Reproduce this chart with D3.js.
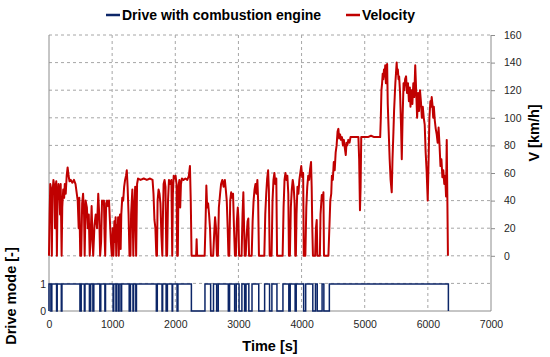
<!DOCTYPE html>
<html>
<head>
<meta charset="utf-8">
<script src="https://cdn.jsdelivr.net/npm/d3@7"></script>
<style>
  body { margin: 0; background: #fff; }
  text { font-family: "Liberation Sans", Arial, sans-serif; }
</style>
</head>
<body>
<svg id="chart" width="550" height="357"></svg>
<script>
// tick labels
var timeTicks = [0, 1000, 2000, 3000, 4000, 5000, 6000, 7000];
var velocityTicks = [0, 20, 40, 60, 80, 100, 120, 140, 160];
var modeTicks = [0, 1];

// velocity [s, km/h]
var velocity = [
  [0,0],[10,30],[20,52],[35,48],[45,0],[55,45],[70,55],[85,50],[95,20],[105,50],[115,54],[125,0],
  [135,40],[150,52],[165,45],[175,30],[185,52],[200,0],[210,35],[225,48],[240,42],[250,52],[265,45],
  [280,58],[295,64],[310,58],[325,54],[345,55],[370,53],[395,55],[420,52],[440,45],[455,40],[470,20],
  [480,42],[495,0],[510,0],[525,38],[540,45],[555,30],[565,0],[580,40],[600,35],[615,20],[630,30],
  [645,0],[660,15],[675,36],[690,10],[700,0],[720,22],[740,30],[760,20],[780,45],[795,30],[810,0],
  [825,10],[840,40],[855,38],[870,40],[880,15],[890,0],[905,38],[920,40],[935,36],[950,40],[965,25],
  [980,10],[995,0],[1010,20],[1020,0],[1035,25],[1045,10],[1055,28],[1065,0],[1075,22],[1085,15],
  [1095,28],[1105,0],[1115,25],[1125,30],[1135,5],[1145,30],[1160,42],[1175,40],[1190,50],[1205,55],
  [1220,58],[1232,62],[1245,50],[1260,30],[1275,0],[1290,0],[1300,30],[1320,48],[1335,0],[1350,35],
  [1365,50],[1380,0],[1395,52],[1410,56],[1450,55],[1500,56],[1550,55],[1600,56],[1640,55],[1655,45],
  [1670,26],[1685,20],[1700,0],[1710,0],[1720,40],[1735,48],[1750,45],[1765,38],[1780,15],[1795,0],
  [1805,30],[1815,52],[1830,55],[1845,50],[1858,0],[1870,0],[1885,40],[1900,55],[1920,52],[1938,55],
  [1952,0],[1962,45],[1975,58],[1990,56],[2005,58],[2020,52],[2030,0],[2040,0],[2050,50],[2065,55],
  [2078,35],[2090,52],[2105,56],[2130,55],[2160,56],[2190,55],[2215,58],[2232,65],[2245,40],[2258,0],
  [2330,0],[2338,12],[2346,0],[2465,0],[2480,25],[2492,51],[2505,35],[2520,38],[2535,30],[2550,20],
  [2565,0],[2600,0],[2615,15],[2630,28],[2645,20],[2660,0],[2675,0],[2690,35],[2710,45],[2725,52],
  [2745,55],[2765,50],[2785,55],[2800,48],[2815,40],[2830,20],[2842,0],[2855,0],[2870,40],[2885,46],
  [2900,42],[2915,45],[2930,20],[2945,0],[2960,0],[2975,25],[2990,35],[3000,27],[3010,0],[3050,0],
  [3065,30],[3078,46],[3090,20],[3100,0],[3115,0],[3130,15],[3145,25],[3157,27],[3168,0],[3210,0],
  [3225,25],[3240,40],[3255,48],[3270,52],[3285,45],[3300,55],[3312,40],[3325,0],[3410,0],[3425,30],
  [3440,45],[3455,56],[3470,62],[3482,48],[3495,0],[3525,0],[3540,40],[3555,55],[3570,60],[3585,52],
  [3600,56],[3612,0],[3700,0],[3715,35],[3730,55],[3745,60],[3760,55],[3775,58],[3790,45],[3800,0],
  [3815,0],[3830,35],[3845,48],[3860,55],[3875,50],[3890,38],[3900,0],[3910,0],[3920,30],[3935,50],
  [3950,45],[3965,55],[3980,60],[3995,65],[4010,57],[4025,60],[4035,0],[4060,0],[4075,35],[4090,50],
  [4105,58],[4120,55],[4135,63],[4150,68],[4160,50],[4170,20],[4180,0],[4215,0],[4228,20],[4240,26],
  [4250,0],[4290,0],[4300,30],[4320,44],[4335,40],[4346,46],[4355,0],[4425,0],[4440,20],[4455,40],
  [4470,45],[4480,58],[4495,55],[4510,68],[4525,62],[4540,75],[4555,80],[4570,90],[4583,92],[4595,85],
  [4610,88],[4625,84],[4640,86],[4655,80],[4670,84],[4685,78],[4700,73],[4712,82],[4725,80],[4740,84],
  [4760,82],[4775,86],[4800,86],[4850,86],[4900,86],[4912,70],[4925,33],[4935,50],[4945,86],[5000,86],
  [5050,86],[5100,87],[5150,86],[5200,86],[5245,86],[5255,100],[5265,120],[5275,125],[5285,132],
  [5295,128],[5305,135],[5315,130],[5325,138],[5335,125],[5345,136],[5355,139],[5365,110],[5380,90],
  [5395,70],[5410,55],[5428,46],[5440,70],[5455,90],[5465,105],[5475,115],[5485,125],[5495,132],
  [5506,140],[5515,132],[5525,135],[5535,128],[5545,130],[5560,118],[5575,95],[5587,70],[5600,100],
  [5615,125],[5625,120],[5640,128],[5655,130],[5670,118],[5685,125],[5700,112],[5715,122],[5725,108],
  [5740,120],[5755,110],[5770,125],[5785,115],[5800,138],[5815,120],[5830,100],[5845,118],[5860,105],
  [5875,120],[5890,112],[5905,100],[5920,108],[5935,100],[5950,95],[5965,75],[5980,62],[5998,40],
  [6012,70],[6025,100],[6040,112],[6050,108],[6061,115],[6072,110],[6085,100],[6095,108],[6110,98],
  [6125,92],[6140,88],[6155,82],[6170,93],[6185,80],[6200,65],[6215,70],[6230,57],[6245,62],[6260,52],
  [6275,58],[6288,43],[6299,84],[6308,45],[6318,0]
];

// periods with the combustion engine off (drive mode 0), [from s, to s]
var engineOff = [
  [30,45],[120,130],[195,205],[490,510],[560,570],[640,660],[695,710],[805,820],[885,895],
  [1015,1025],[1060,1070],[1100,1110],[1140,1150],[1270,1290],[1330,1340],[1375,1385],[1700,1715],
  [1790,1800],[1855,1875],[1950,1958],[2028,2042],[2255,2470],[2560,2605],[2655,2680],[2840,2860],
  [2940,2965],[3010,3055],[3098,3120],[3165,3215],[3322,3415],[3493,3530],[3610,3705],[3798,3820],
  [3898,3915],[4033,4065],[4178,4220],[4248,4325],[4353,4440]
];
var driveEnd = 6325;

var svg = d3.select("#chart");
var plotLeft = 49, plotRight = 491, plotTop = 35, plotBottom = 311;
var gridColor = "#a6a6a6", axisColor = "#8c8c8c";
var redColor = "#c00000", blueColor = "#0c2668";

var x = d3.scaleLinear().domain([0, 7000]).range([plotLeft, plotRight]);
var yV = d3.scaleLinear().domain([-40, 160]).range([plotBottom, plotTop]);
var yM = d3.scaleLinear().domain([0, 1]).range([plotBottom, 284]);

// grid
var grid = svg.append("g");
grid.selectAll(".hgrid")
    .data(d3.range(-20, 161, 20))
  .enter().append("line")
    .attr("x1", plotLeft).attr("x2", plotRight)
    .attr("y1", function(d) { return yV(d); })
    .attr("y2", function(d) { return yV(d); })
    .attr("stroke", gridColor).attr("stroke-dasharray", "3,3");
grid.selectAll(".vgrid")
    .data(timeTicks.slice(1, -1))
  .enter().append("line")
    .attr("x1", function(d) { return x(d); })
    .attr("x2", function(d) { return x(d); })
    .attr("y1", plotTop).attr("y2", plotBottom)
    .attr("stroke", gridColor).attr("stroke-dasharray", "3,3");

// frame axes
svg.append("line").attr("x1", plotLeft).attr("x2", plotLeft).attr("y1", plotTop).attr("y2", plotBottom).attr("stroke", axisColor);
svg.append("line").attr("x1", plotRight).attr("x2", plotRight).attr("y1", plotTop).attr("y2", plotBottom).attr("stroke", axisColor);
svg.append("line").attr("x1", plotLeft).attr("x2", plotRight).attr("y1", plotBottom).attr("y2", plotBottom).attr("stroke", axisColor);

// drive mode step line
var drivePts = [[0, 0], [0, 1]];
engineOff.forEach(function(p) {
  drivePts.push([p[0], 1], [p[0], 0], [p[1], 0], [p[1], 1]);
});
drivePts.push([driveEnd, 1], [driveEnd, 0]);

svg.append("path")
    .datum(drivePts)
    .attr("fill", "none")
    .attr("stroke", blueColor)
    .attr("stroke-width", 1.5)
    .attr("d", d3.line().x(function(d) { return x(d[0]); }).y(function(d) { return yM(d[1]); }));

svg.append("path")
    .datum(velocity)
    .attr("fill", "none")
    .attr("stroke", redColor)
    .attr("stroke-width", 2)
    .attr("stroke-linejoin", "round")
    .attr("d", d3.line().x(function(d) { return x(d[0]); }).y(function(d) { return yV(d[1]); }));

// axes
var ax = svg.append("g")
    .attr("transform", "translate(0," + plotBottom + ")")
    .call(d3.axisBottom(x).tickValues(timeTicks).tickFormat(d3.format("d")).tickSize(0).tickPadding(10));
var ay = svg.append("g")
    .attr("transform", "translate(" + plotRight + ",0)")
    .call(d3.axisRight(yV).tickValues(velocityTicks).tickFormat(d3.format("d")).tickSize(4).tickPadding(9));
var am = svg.append("g")
    .attr("transform", "translate(" + plotLeft + ",0)")
    .call(d3.axisLeft(yM).tickValues(modeTicks).tickFormat(d3.format("d")).tickSize(0).tickPadding(3));

[ax, ay, am].forEach(function(g) {
  g.select(".domain").remove();
  g.selectAll(".tick line").attr("stroke", axisColor);
  g.selectAll(".tick text")
    .attr("fill", "#262626")
    .style("font-size", "10.5px")
    .style("font-family", "'Liberation Sans', Arial, sans-serif");
});

// titles
svg.append("text")
    .attr("x", (plotLeft + plotRight) / 2).attr("y", 351)
    .attr("text-anchor", "middle")
    .style("font-size", "14.5px").style("font-weight", "bold")
    .text("Time [s]");
svg.append("text")
    .attr("transform", "translate(539,133) rotate(-90)")
    .attr("text-anchor", "middle")
    .style("font-size", "14.5px").style("font-weight", "bold")
    .text("V [km/h]");
svg.append("text")
    .attr("transform", "translate(16,296) rotate(-90)")
    .attr("text-anchor", "middle")
    .style("font-size", "14.5px").style("font-weight", "bold")
    .text("Drive mode [-]");

// legend
var legend = [
  {name: "Drive with combustion engine", color: blueColor, x: 106},
  {name: "Velocity", color: redColor, x: 346}
];
var lg = svg.selectAll(".legend").data(legend).enter().append("g");
lg.append("line")
    .attr("x1", function(d) { return d.x; })
    .attr("x2", function(d) { return d.x + 14; })
    .attr("y1", 15).attr("y2", 15)
    .attr("stroke", function(d) { return d.color; })
    .attr("stroke-width", 2.5);
lg.append("text")
    .attr("x", function(d) { return d.x + 16; })
    .attr("y", 20)
    .style("font-size", "14px").style("font-weight", "bold")
    .text(function(d) { return d.name; });
</script>
</body>
</html>
